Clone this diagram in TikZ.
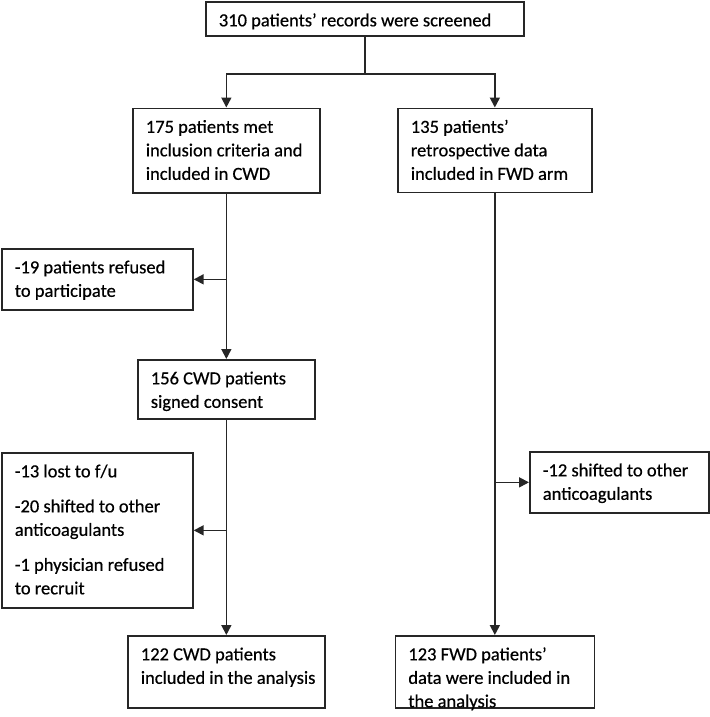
\documentclass[tikz,border=0pt]{standalone}
\usepackage{fontspec}
\setmainfont{Carlito}[FakeBold=0.5]
\usetikzlibrary{arrows.meta}
\newcommand\bx[3]{\parbox[c][#2][t]{#1}{\fontsize{18.5pt}{23.5pt}\selectfont\leftskip=13pt\rightskip=0pt plus 1fil\parindent=0pt\rule{0pt}{24.5pt}#3}}
\tikzset{
  box/.style={draw=black!85, line width=1.7pt, inner sep=0pt, anchor=north west, fill=white},
  conn/.style={draw=black!85, line width=1.7pt},
  arr/.style={conn, -{Triangle[length=10pt,width=10pt]}}
}
\begin{document}
\begin{tikzpicture}[x=1pt,y=-1pt]
\useasboundingbox (0,0) rectangle (709,717);
\node[box] (top) at (205,1) {\bx{318pt}{34pt}{310 patients’ records were screened}};
\node[box] (c1) at (132,107.5) {\bx{187pt}{84.5pt}{175 patients met\\inclusion criteria and\\included in CWD}};
\node[box] (f1) at (397,107.5) {\bx{194pt}{84pt}{135 patients’\\retrospective data\\included in FWD arm}};
\node[box] (r19) at (1,248) {\bx{191pt}{61pt}{-19 patients refused\\to participate}};
\node[box] (c2) at (137,359) {\bx{177pt}{59pt}{156 CWD patients\\signed consent}};
\node[box] (rbig) at (1,452) {\bx{191pt}{155pt}{-13 lost to f/u\\[11.5pt]-20 shifted to other\\anticoagulants\\[11.5pt]-1 physician refused\\to recruit}};
\node[box] (r12) at (529,451) {\bx{179pt}{61pt}{-12 shifted to other\\anticoagulants}};
\node[box] (c3) at (127,635) {\bx{197pt}{72pt}{122 CWD patients\\included in the analysis}};
\node[box] (f3) at (394.5,635) {\bx{199pt}{72pt}{123 FWD patients’\\data were included in\\the analysis}};
\draw[conn] (top.south) -- ++(0,37) coordinate (sp);
\draw[arr] (sp) -| (c1.north);
\draw[arr] (sp) -| (f1.north);
\draw[arr] (c1.south) -- (c2.north);
\draw[arr] (c1.south |- r19.east) -- (r19.east);
\draw[arr] (c2.south) -- (c3.north);
\draw[arr] (c2.south |- rbig.east) -- (rbig.east);
\draw[arr] (f1.south) -- (f3.north);
\draw[arr] (f1.south |- r12.west) -- (r12.west);
\end{tikzpicture}
\end{document}
